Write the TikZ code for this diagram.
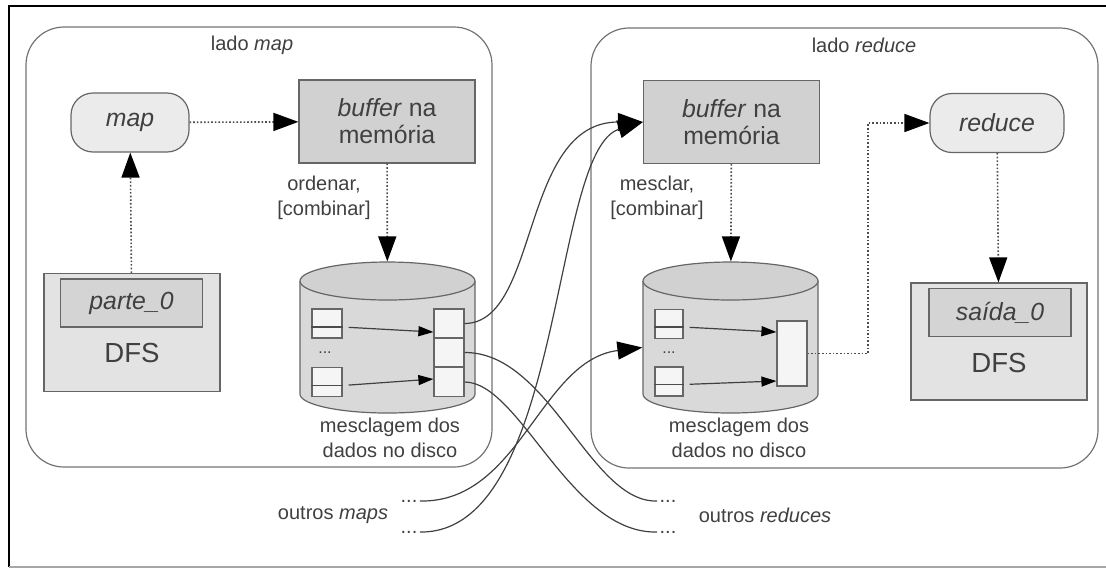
\documentclass[tikz,border=0pt]{standalone}
\usepackage{fontspec}
\setmainfont{Liberation Sans}
\usetikzlibrary{arrows.meta}

\begin{document}
\begin{tikzpicture}[x=.5pt, y=-.5pt, font=\fontsize{12.4}{13.5}\selectfont, text=black!75, line width=.6pt,
  panel/.style={draw=black!55, rounded corners=19pt, inner sep=0pt},
  buf/.style={draw=black!60, fill=black!18, minimum width=88pt, minimum height=41.5pt, align=center, inner sep=0pt},
  task/.style={draw=black!60, fill=black!8, rounded corners=11pt, minimum width=59pt, minimum height=29.5pt},
  dfs/.style={draw=black!60, fill=black!11, minimum width=88pt, minimum height=59pt},
  part/.style={draw=black!60, fill=black!17, minimum width=71pt, minimum height=24pt},
  rec/.style={draw=black!60, fill=black!4, minimum width=15pt, minimum height=14.5pt, inner sep=0pt},
  lbl/.style={font=\fontsize{10}{12.5}\selectfont, align=center, inner sep=1pt},
  flow/.style={densely dotted, line width=.8pt, draw=black!70, -{Triangle[length=12.5pt,width=9pt,black]}},
  link/.style={draw=black!75, line width=.6pt},
  big/.style={-{Triangle[length=12.5pt,width=9pt,black]}},
  small/.style={shorten <=3pt, -{Triangle[length=7.5pt,width=5pt,black]}}
]
\useasboundingbox (0,0) rectangle (1106,570);
\draw[line width=1pt] (1110,6) -- (9,6) -- (9,567);
\draw[black!35] (9,567) -- (1110,567);

\node[panel, minimum width=233pt, minimum height=220pt] (sideM) at (259,247) {};
\node[panel, minimum width=253.5pt, minimum height=220pt] (sideR) at (844.5,248) {};
\node[lbl] (sideMtxt) at (252,45) {lado \textit{map}};
\node[lbl] (sideRtxt) at (864,45) {lado \textit{reduce}};

\node[task] (M) at (130,122.5) {\textit{map}};
\node[buf] (BM) at (387,121.5) {\textit{buffer} na\\memória};
\node[lbl] (sortM) at (324,198) {ordenar,\\{}[combinar]};
\node[dfs] (DM) at (132,332.5) {};
\node[part] (PM) at (131.5,303) {\textit{parte\_0}};
\node[font=\fontsize{13.8}{16}\selectfont] (DMtxt) at (132,353) {DFS};

\fill[black!15] (300,281) -- (300,394) arc[start angle=180, end angle=360, x radius=43.75pt, y radius=9.5pt] -- (475,281) -- cycle;
\draw[black!60] (300,281) -- (300,394) arc[start angle=180, end angle=360, x radius=43.75pt, y radius=9.5pt] -- (475,281);
\draw[black!60, fill=black!18] (387.5,281) ellipse[x radius=43.75pt, y radius=9.5pt];
\node[minimum width=87.5pt, minimum height=75.5pt, inner sep=0pt] (KM) at (387.5,337.5) {};
\node[rec] (sM1) at (327,323.5) {};
\node[rec] (sM2) at (327,382) {};
\draw[black!70] ([yshift=-1.75pt]sM1.west) -- ([yshift=-1.75pt]sM1.east);
\draw[black!70] ([yshift=-1.75pt]sM2.west) -- ([yshift=-1.75pt]sM2.east);
\node[lbl, font=\fontsize{8}{9}\selectfont] (dotsM) at (325,353) {...};
\node[rec] (cM1) at (449,323.5) {};
\node[rec] (cM2) at (449,352.5) {};
\node[rec] (cM3) at (449,382) {};
\node[lbl] (mergeM) at (390,438) {mesclagem dos\\dados no disco};

\node[buf] (BR) at (731.5,122) {\textit{buffer} na\\memória};
\node[lbl] (sortR) at (657,198) {mesclar,\\{}[combinar]};
\node[task, minimum width=67pt] (R) at (997,123) {\textit{reduce}};
\node[dfs, minimum height=58.5pt] (DR) at (999,341.5) {};
\node[part] (PR) at (1000,312.5) {\textit{saída\_0}};
\node[font=\fontsize{13.8}{16}\selectfont] (DRtxt) at (999,363) {DFS};

\fill[black!15] (643,281) -- (643,394) arc[start angle=180, end angle=360, x radius=43.75pt, y radius=9.5pt] -- (818,281) -- cycle;
\draw[black!60] (643,281) -- (643,394) arc[start angle=180, end angle=360, x radius=43.75pt, y radius=9.5pt] -- (818,281);
\draw[black!60, fill=black!18] (730.5,281) ellipse[x radius=43.75pt, y radius=9.5pt];
\node[minimum width=87.5pt, minimum height=75.5pt, inner sep=0pt] (KR) at (730.5,337.5) {};
\node[rec, minimum width=14pt] (sR1) at (669,324) {};
\node[rec, minimum width=14pt] (sR2) at (669,381.5) {};
\draw[black!70] ([yshift=-1.5pt]sR1.west) -- ([yshift=-1.5pt]sR1.east);
\draw[black!70] ([yshift=-1.5pt]sR2.west) -- ([yshift=-1.5pt]sR2.east);
\node[lbl, font=\fontsize{8}{9}\selectfont] (dotsR) at (669,353) {...};
\node[rec, minimum height=32.5pt] (cR) at (792,353.5) {};
\node[lbl] (mergeR) at (739,438) {mesclagem dos\\dados no disco};
\coordinate (turn) at (868,123);

\node[lbl] (otherM) at (333,515) {outros \textit{maps}};
\node[lbl] (otherR) at (765,515) {outros \textit{reduces}};
\node[lbl] (dM1) at (409,501) {...};
\node[lbl] (dM2) at (409,532) {...};
\node[lbl] (dR1) at (668,501) {...};
\node[lbl] (dR2) at (668,532) {...};

\draw[flow] (M) -- (BM);
\draw[flow] (DM) -- (M);
\draw[flow] (BM) -- (KM);
\draw[flow] (BR) -- (KR);
\draw[flow] (cR.east) -| (turn) -- (R);
\draw[flow] (R) -- (DR);

\draw[link, small] ([yshift=-1.75pt]sM1.east) -- ([yshift=-4.25pt]cM1.west);
\draw[link, small] ([yshift=-1.75pt]sM2.east) -- ([yshift=1.5pt]cM3.west);
\draw[link, small] ([yshift=-1.5pt]sR1.east) -- ([yshift=10.75pt]cR.west);
\draw[link, small] ([yshift=-1.5pt]sR2.east) -- ([yshift=-13.75pt]cR.west);

\draw[link, big] (cM1.east) .. controls (540,323) and (520,122) .. (BR.west);
\draw[link, big] (dM2.east) .. controls (565,534) and (550,150) .. (BR.west);
\draw[link, big] (dM1.east) .. controls (520,503) and (540,360) .. ([yshift=-5pt]KR.west);
\draw[link] (cM2.east) .. controls (550,352) and (590,503) .. (dR1.west);
\draw[link] (cM3.east) .. controls (520,382) and (570,534) .. (dR2.west);

\end{tikzpicture}
\end{document}
